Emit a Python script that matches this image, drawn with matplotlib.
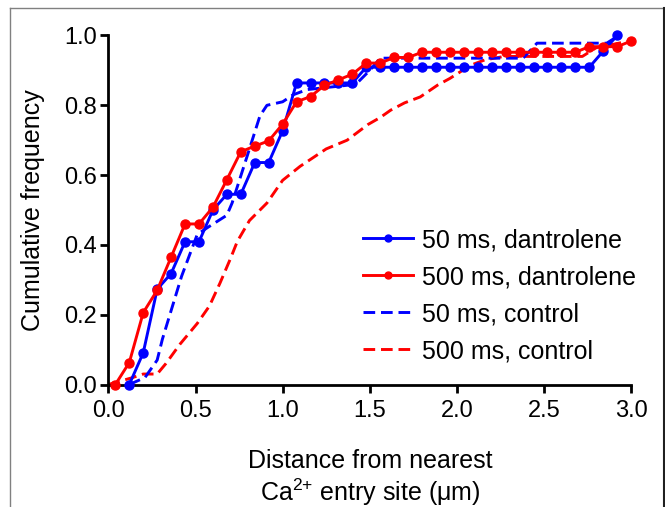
import matplotlib
matplotlib.use("Agg")
import matplotlib.pyplot as plt
from matplotlib.lines import Line2D

plt.rcParams['font.family'] = ['Liberation Sans', 'DejaVu Sans']
plt.rcParams['mathtext.default'] = 'regular'

# ---- data ----
x_50_dan = [0.12, 0.20, 0.28, 0.36, 0.44, 0.52, 0.60, 0.68, 0.76, 0.84, 0.92, 1.00,
            1.08, 1.16, 1.24, 1.32, 1.40, 1.48, 1.56, 1.64, 1.72, 1.80, 1.88, 1.96,
            2.04, 2.12, 2.20, 2.28, 2.36, 2.44, 2.52, 2.60, 2.68, 2.76, 2.84, 2.92]
y_50_dan = [0.0, 0.091, 0.273, 0.318, 0.409, 0.409, 0.500, 0.545, 0.545, 0.636, 0.636, 0.727,
            0.864, 0.864, 0.864, 0.864, 0.864, 0.909, 0.909, 0.909, 0.909, 0.909, 0.909, 0.909,
            0.909, 0.909, 0.909, 0.909, 0.909, 0.909, 0.909, 0.909, 0.909, 0.909, 0.955, 1.0]

x_500_dan = [0.04, 0.12, 0.20, 0.28, 0.36, 0.44, 0.52, 0.60, 0.68, 0.76, 0.84, 0.92, 1.00,
             1.08, 1.16, 1.24, 1.32, 1.40, 1.48, 1.56, 1.64, 1.72, 1.80, 1.88, 1.96,
             2.04, 2.12, 2.20, 2.28, 2.36, 2.44, 2.52, 2.60, 2.68, 2.76, 2.84, 2.92, 3.00]
y_500_dan = [0.0, 0.063, 0.206, 0.270, 0.365, 0.460, 0.460, 0.508, 0.587, 0.667, 0.683, 0.698, 0.746,
             0.810, 0.825, 0.857, 0.873, 0.889, 0.921, 0.921, 0.937, 0.937, 0.952, 0.952, 0.952,
             0.952, 0.952, 0.952, 0.952, 0.952, 0.952, 0.952, 0.952, 0.952, 0.968, 0.968, 0.968, 0.984]

x_50_ctl = [0.12, 0.21, 0.28, 0.31, 0.42, 0.51, 0.57, 0.68, 0.71, 0.80, 0.87, 0.91,
            1.00, 1.06, 1.14, 1.42, 1.50, 1.56, 2.38, 2.46, 2.86, 2.93]
y_50_ctl = [0.0, 0.02, 0.07, 0.13, 0.31, 0.43, 0.45, 0.485, 0.52, 0.66, 0.77, 0.80,
            0.81, 0.83, 0.845, 0.86, 0.90, 0.935, 0.935, 0.978, 0.978, 1.0]

x_500_ctl = [0.0, 0.14, 0.20, 0.28, 0.33, 0.41, 0.51, 0.58, 0.64, 0.70, 0.74, 0.81, 0.91,
             1.00, 1.10, 1.25, 1.37, 1.49, 1.56, 1.62, 1.70, 1.79, 1.89, 1.96, 2.08,
             2.16, 2.27, 2.72, 2.80, 3.00]
y_500_ctl = [0.0, 0.02, 0.03, 0.03, 0.06, 0.115, 0.175, 0.225, 0.29, 0.36, 0.41, 0.47, 0.52,
             0.585, 0.625, 0.675, 0.70, 0.745, 0.765, 0.786, 0.807, 0.824, 0.858, 0.877, 0.915,
             0.93, 0.94, 0.94, 0.965, 0.985]

labels = ["50 ms, dantrolene", "500 ms, dantrolene", "50 ms, control", "500 ms, control"]
xticks = [0.0, 0.5, 1.0, 1.5, 2.0, 2.5, 3.0]
yticks = [0.0, 0.2, 0.4, 0.6, 0.8, 1.0]

BLUE = '#0000ff'
RED = '#ff0000'

fig = plt.figure(figsize=(6.65, 5.07), dpi=100)
ax = fig.add_axes([0.163, 0.2416, 0.786, 0.6884])

lw = 2.1
ax.plot(x_500_ctl, y_500_ctl, color=RED, lw=lw, dashes=(4, 2), clip_on=False, zorder=2)
ax.plot(x_50_ctl, y_50_ctl, color=BLUE, lw=lw, dashes=(4, 2), clip_on=False, zorder=3)
ax.plot(x_50_dan, y_50_dan, color=BLUE, lw=lw, marker='o', ms=6.5, clip_on=False, zorder=4)
ax.plot(x_500_dan, y_500_dan, color=RED, lw=lw, marker='o', ms=6.5, clip_on=False, zorder=5)

ax.set_xlim(0, 3.0)
ax.set_ylim(0, 1.0)
ax.set_xticks(xticks)
ax.set_xticklabels([f"{v:.1f}" for v in xticks])
ax.set_yticks(yticks)
ax.set_yticklabels([f"{v:.1f}" for v in yticks])

for s in ['top', 'right']:
    ax.spines[s].set_visible(False)
for s in ['left', 'bottom']:
    ax.spines[s].set_linewidth(2)
ax.tick_params(axis='both', direction='out', length=6, width=2, labelsize=17)
ax.tick_params(axis='x', pad=5)
ax.tick_params(axis='y', pad=2)

handles = [
    Line2D([], [], color=BLUE, lw=lw, marker='o', ms=5),
    Line2D([], [], color=RED, lw=lw, marker='o', ms=5),
    Line2D([], [], color=BLUE, lw=lw, dashes=(4, 2)),
    Line2D([], [], color=RED, lw=lw, dashes=(4, 2)),
]
fig.legend(handles, labels, loc='center left', bbox_to_anchor=(0.546, 0.417),
           bbox_transform=fig.transFigure, frameon=False, fontsize=18,
           handlelength=2.0, handletextpad=0.36, labelspacing=0.52,
           borderpad=0, borderaxespad=0)

fig.text(33 / 665, 1 - 210 / 507, "Cumulative frequency", rotation=90,
         ha='center', va='center', fontsize=18)
fig.text(370 / 665, 1 - 468 / 507, "Distance from nearest", ha='center',
         va='baseline', fontsize=18)
fig.text(370 / 665, 1 - 501 / 507, "Ca$^{2{+}}$ entry site (\u03bcm)", ha='center',
         va='baseline', fontsize=18)

# outer frame
fig.add_artist(Line2D([10 / 665, 10 / 665], [0, 1 - 8 / 507], transform=fig.transFigure,
                      color='#808080', lw=1))
fig.add_artist(Line2D([10 / 665, 664 / 665], [1 - 8 / 507, 1 - 8 / 507],
                      transform=fig.transFigure, color='#808080', lw=1))
fig.add_artist(Line2D([664 / 665, 664 / 665], [0, 1 - 8 / 507], transform=fig.transFigure,
                      color='#202020', lw=1.5))

fig.savefig("out.png", dpi=100)
